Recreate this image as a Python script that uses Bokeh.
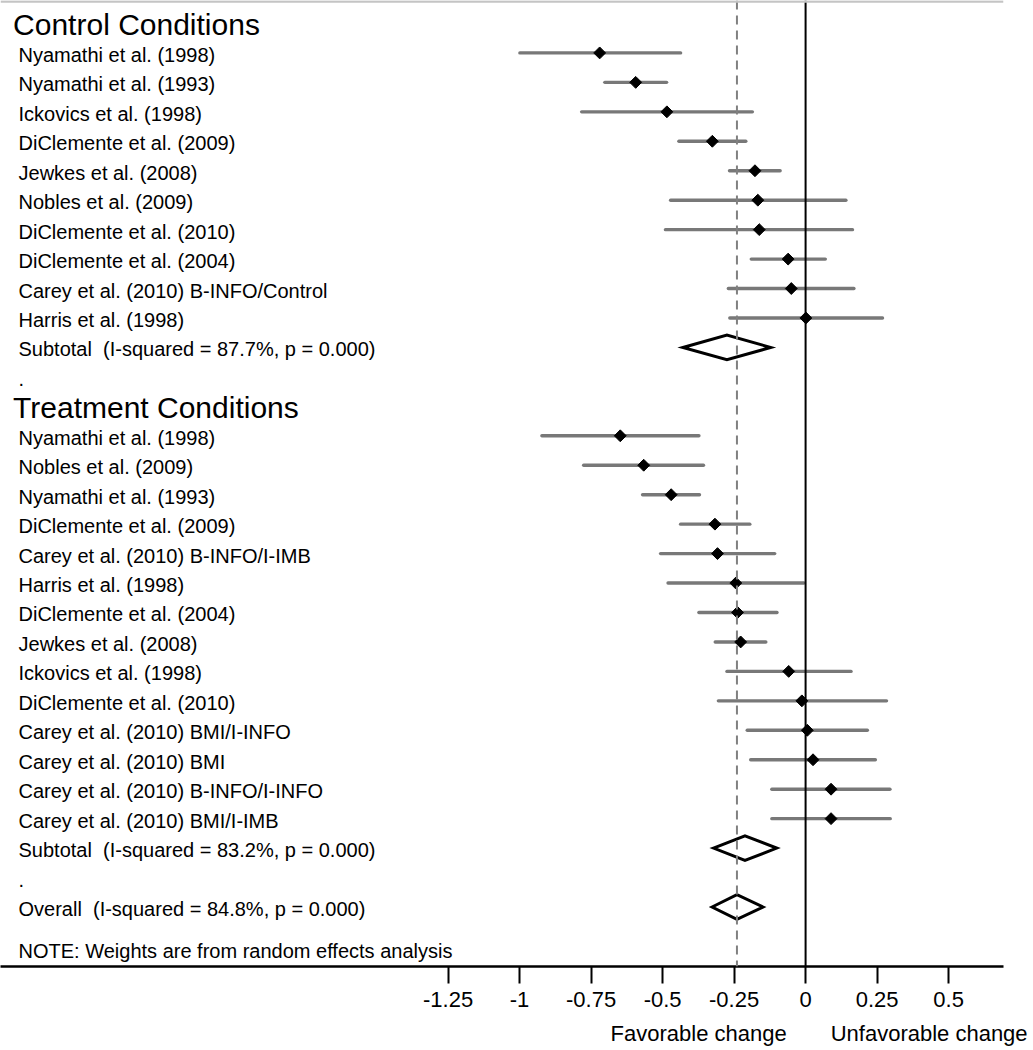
import numpy as np
from bokeh.plotting import figure
from bokeh.models import Range1d, LinearAxis, FixedTicker, Span
from bokeh.core.properties import value
from bokeh.embed import file_html
from bokeh.resources import INLINE

FONT = "Liberation Sans"

# ---------------- data ----------------
control_title = "Control Conditions"
control_labels = [
    "Nyamathi et al. (1998)",
    "Nyamathi et al. (1993)",
    "Ickovics et al. (1998)",
    "DiClemente et al. (2009)",
    "Jewkes et al. (2008)",
    "Nobles et al. (2009)",
    "DiClemente et al. (2010)",
    "DiClemente et al. (2004)",
    "Carey et al. (2010) B-INFO/Control",
    "Harris et al. (1998)",
]
control_est = [-0.720, -0.594, -0.485, -0.326, -0.177, -0.167, -0.162, -0.061, -0.050, 0.001]
control_lo = [-0.999, -0.702, -0.783, -0.443, -0.266, -0.472, -0.490, -0.190, -0.270, -0.265]
control_hi = [-0.437, -0.486, -0.186, -0.209, -0.089, 0.141, 0.164, 0.069, 0.169, 0.269]
control_sub_label = "Subtotal \u00a0(I-squared = 87.7%, p = 0.000)"
control_sub = [-0.275, -0.429, -0.122]  # estimate, lower, upper

treat_title = "Treatment Conditions"
treat_labels = [
    "Nyamathi et al. (1998)",
    "Nobles et al. (2009)",
    "Nyamathi et al. (1993)",
    "DiClemente et al. (2009)",
    "Carey et al. (2010) B-INFO/I-IMB",
    "Harris et al. (1998)",
    "DiClemente et al. (2004)",
    "Jewkes et al. (2008)",
    "Ickovics et al. (1998)",
    "DiClemente et al. (2010)",
    "Carey et al. (2010) BMI/I-INFO",
    "Carey et al. (2010) BMI",
    "Carey et al. (2010) B-INFO/I-INFO",
    "Carey et al. (2010) BMI/I-IMB",
]
treat_est = [-0.648, -0.566, -0.470, -0.317, -0.308, -0.244, -0.238, -0.227, -0.059, -0.013, 0.006, 0.026, 0.089, 0.089]
treat_lo = [-0.922, -0.776, -0.570, -0.437, -0.507, -0.481, -0.373, -0.316, -0.275, -0.305, -0.204, -0.192, -0.118, -0.118]
treat_hi = [-0.373, -0.357, -0.371, -0.195, -0.108, -0.006, -0.100, -0.139, 0.159, 0.283, 0.216, 0.244, 0.295, 0.296]
treat_sub_label = "Subtotal \u00a0(I-squared = 83.2%, p = 0.000)"
treat_sub = [-0.212, -0.322, -0.101]

overall_label = "Overall \u00a0(I-squared = 84.8%, p = 0.000)"
overall = [-0.240, -0.327, -0.149]

note_text = "NOTE: Weights are from random effects analysis"

tick_values = [-1.25, -1.0, -0.75, -0.5, -0.25, 0.0, 0.25, 0.5]
tick_labels = ["-1.25", "-1", "-0.75", "-0.5", "-0.25", "0", "0.25", "0.5"]

favour_positions = [-0.374, 0.432]
favour_labels = ["Favorable change", "Unfavorable change"]

# ---------------- layout (rows) ----------------
c_title_row = 0
c_rows = list(range(1, 1 + len(control_labels)))
c_sub_row = c_rows[-1] + 1
dot1_row = c_sub_row + 1
t_title_row = dot1_row + 1
t_rows = list(range(t_title_row + 1, t_title_row + 1 + len(treat_labels)))
t_sub_row = t_rows[-1] + 1
dot2_row = t_sub_row + 1
overall_row = dot2_row + 1
note_row = overall_row + 1.42

X0, X1 = -2.815, 0.692
Y_TOP, Y_BOT = -0.78, 32.02

p = figure(
    frame_width=1003, frame_height=966,
    x_range=Range1d(X0, X1), y_range=Range1d(Y_BOT, Y_TOP),
    x_axis_type=None, y_axis_type=None,
    output_backend="svg", toolbar_location=None,
    min_border_left=0, min_border_top=0, min_border_right=28, min_border_bottom=0,
)
p.outline_line_color = None
p.background_fill_color = "white"
p.border_fill_color = "white"

# confidence intervals
p.segment(x0=control_lo, y0=c_rows, x1=control_hi, y1=c_rows,
          line_color="#787878", line_width=3.4, line_cap="round")
p.segment(x0=treat_lo, y0=t_rows, x1=treat_hi, y1=t_rows,
          line_color="#787878", line_width=3.4, line_cap="round")

# point estimates
p.scatter(x=control_est, y=c_rows, marker="square", angle=np.pi / 4, size=8.4,
          fill_color="black", line_color="black")
p.scatter(x=treat_est, y=t_rows, marker="square", angle=np.pi / 4, size=8.4,
          fill_color="black", line_color="black")

# pooled diamonds
H = 0.42
dx, dy = [], []
for (est, lo, hi), r in [(control_sub, c_sub_row), (treat_sub, t_sub_row), (overall, overall_row)]:
    dx.append([lo, est, hi, est])
    dy.append([r, r - H, r, r + H])
p.patches(xs=dx, ys=dy, fill_color=None, line_color="black", line_width=3, line_join="miter")

# reference lines
p.add_layout(Span(location=overall[0], dimension="height", line_color="#808080",
                  line_width=2, line_dash="9 6"))
p.add_layout(Span(location=0, dimension="height", line_color="black", line_width=2))
p.add_layout(Span(location=-0.745, dimension="width", line_color="#c4c4c4", line_width=2.5))

# texts
TX = -2.752
row_texts = (control_labels + [control_sub_label, "."] + treat_labels +
             [treat_sub_label, ".", overall_label, note_text])
row_ys = c_rows + [c_sub_row, dot1_row] + t_rows + [t_sub_row, dot2_row, overall_row, note_row]
p.text(x=[TX] * len(row_texts), y=row_ys, text=row_texts,
       text_font=value(FONT), text_font_size="20px", text_color="black",
       text_baseline="middle", text_align="left", y_offset=2)
p.text(x=[-2.771, -2.771], y=[c_title_row, t_title_row], text=[control_title, treat_title],
       text_font=value(FONT), text_font_size="30px", text_color="black",
       text_baseline="middle", text_align="left", y_offset=1)

# x axis
ax = LinearAxis(ticker=FixedTicker(ticks=tick_values),
                major_label_overrides={v: s for v, s in zip(tick_values, tick_labels)})
ax.axis_line_color = "black"
ax.axis_line_width = 2.5
ax.major_tick_line_color = "black"
ax.major_tick_line_width = 2
ax.major_tick_out = 17
ax.major_tick_in = 0
ax.minor_tick_line_color = None
ax.major_label_standoff = 8
ax.major_label_text_font = FONT
ax.major_label_text_font_size = "22px"
ax.major_label_text_color = "black"
p.add_layout(ax, "below")

fav = LinearAxis(ticker=FixedTicker(ticks=favour_positions),
                 major_label_overrides={v: s for v, s in zip(favour_positions, favour_labels)})
fav.axis_line_color = None
fav.major_tick_line_color = None
fav.minor_tick_line_color = None
fav.major_tick_out = 0
fav.major_tick_in = 0
fav.major_label_standoff = 11
fav.major_label_text_font = FONT
fav.major_label_text_font_size = "22px"
fav.major_label_text_color = "black"
p.add_layout(fav, "below")

open("out.html", "w").write(file_html(p, INLINE))
